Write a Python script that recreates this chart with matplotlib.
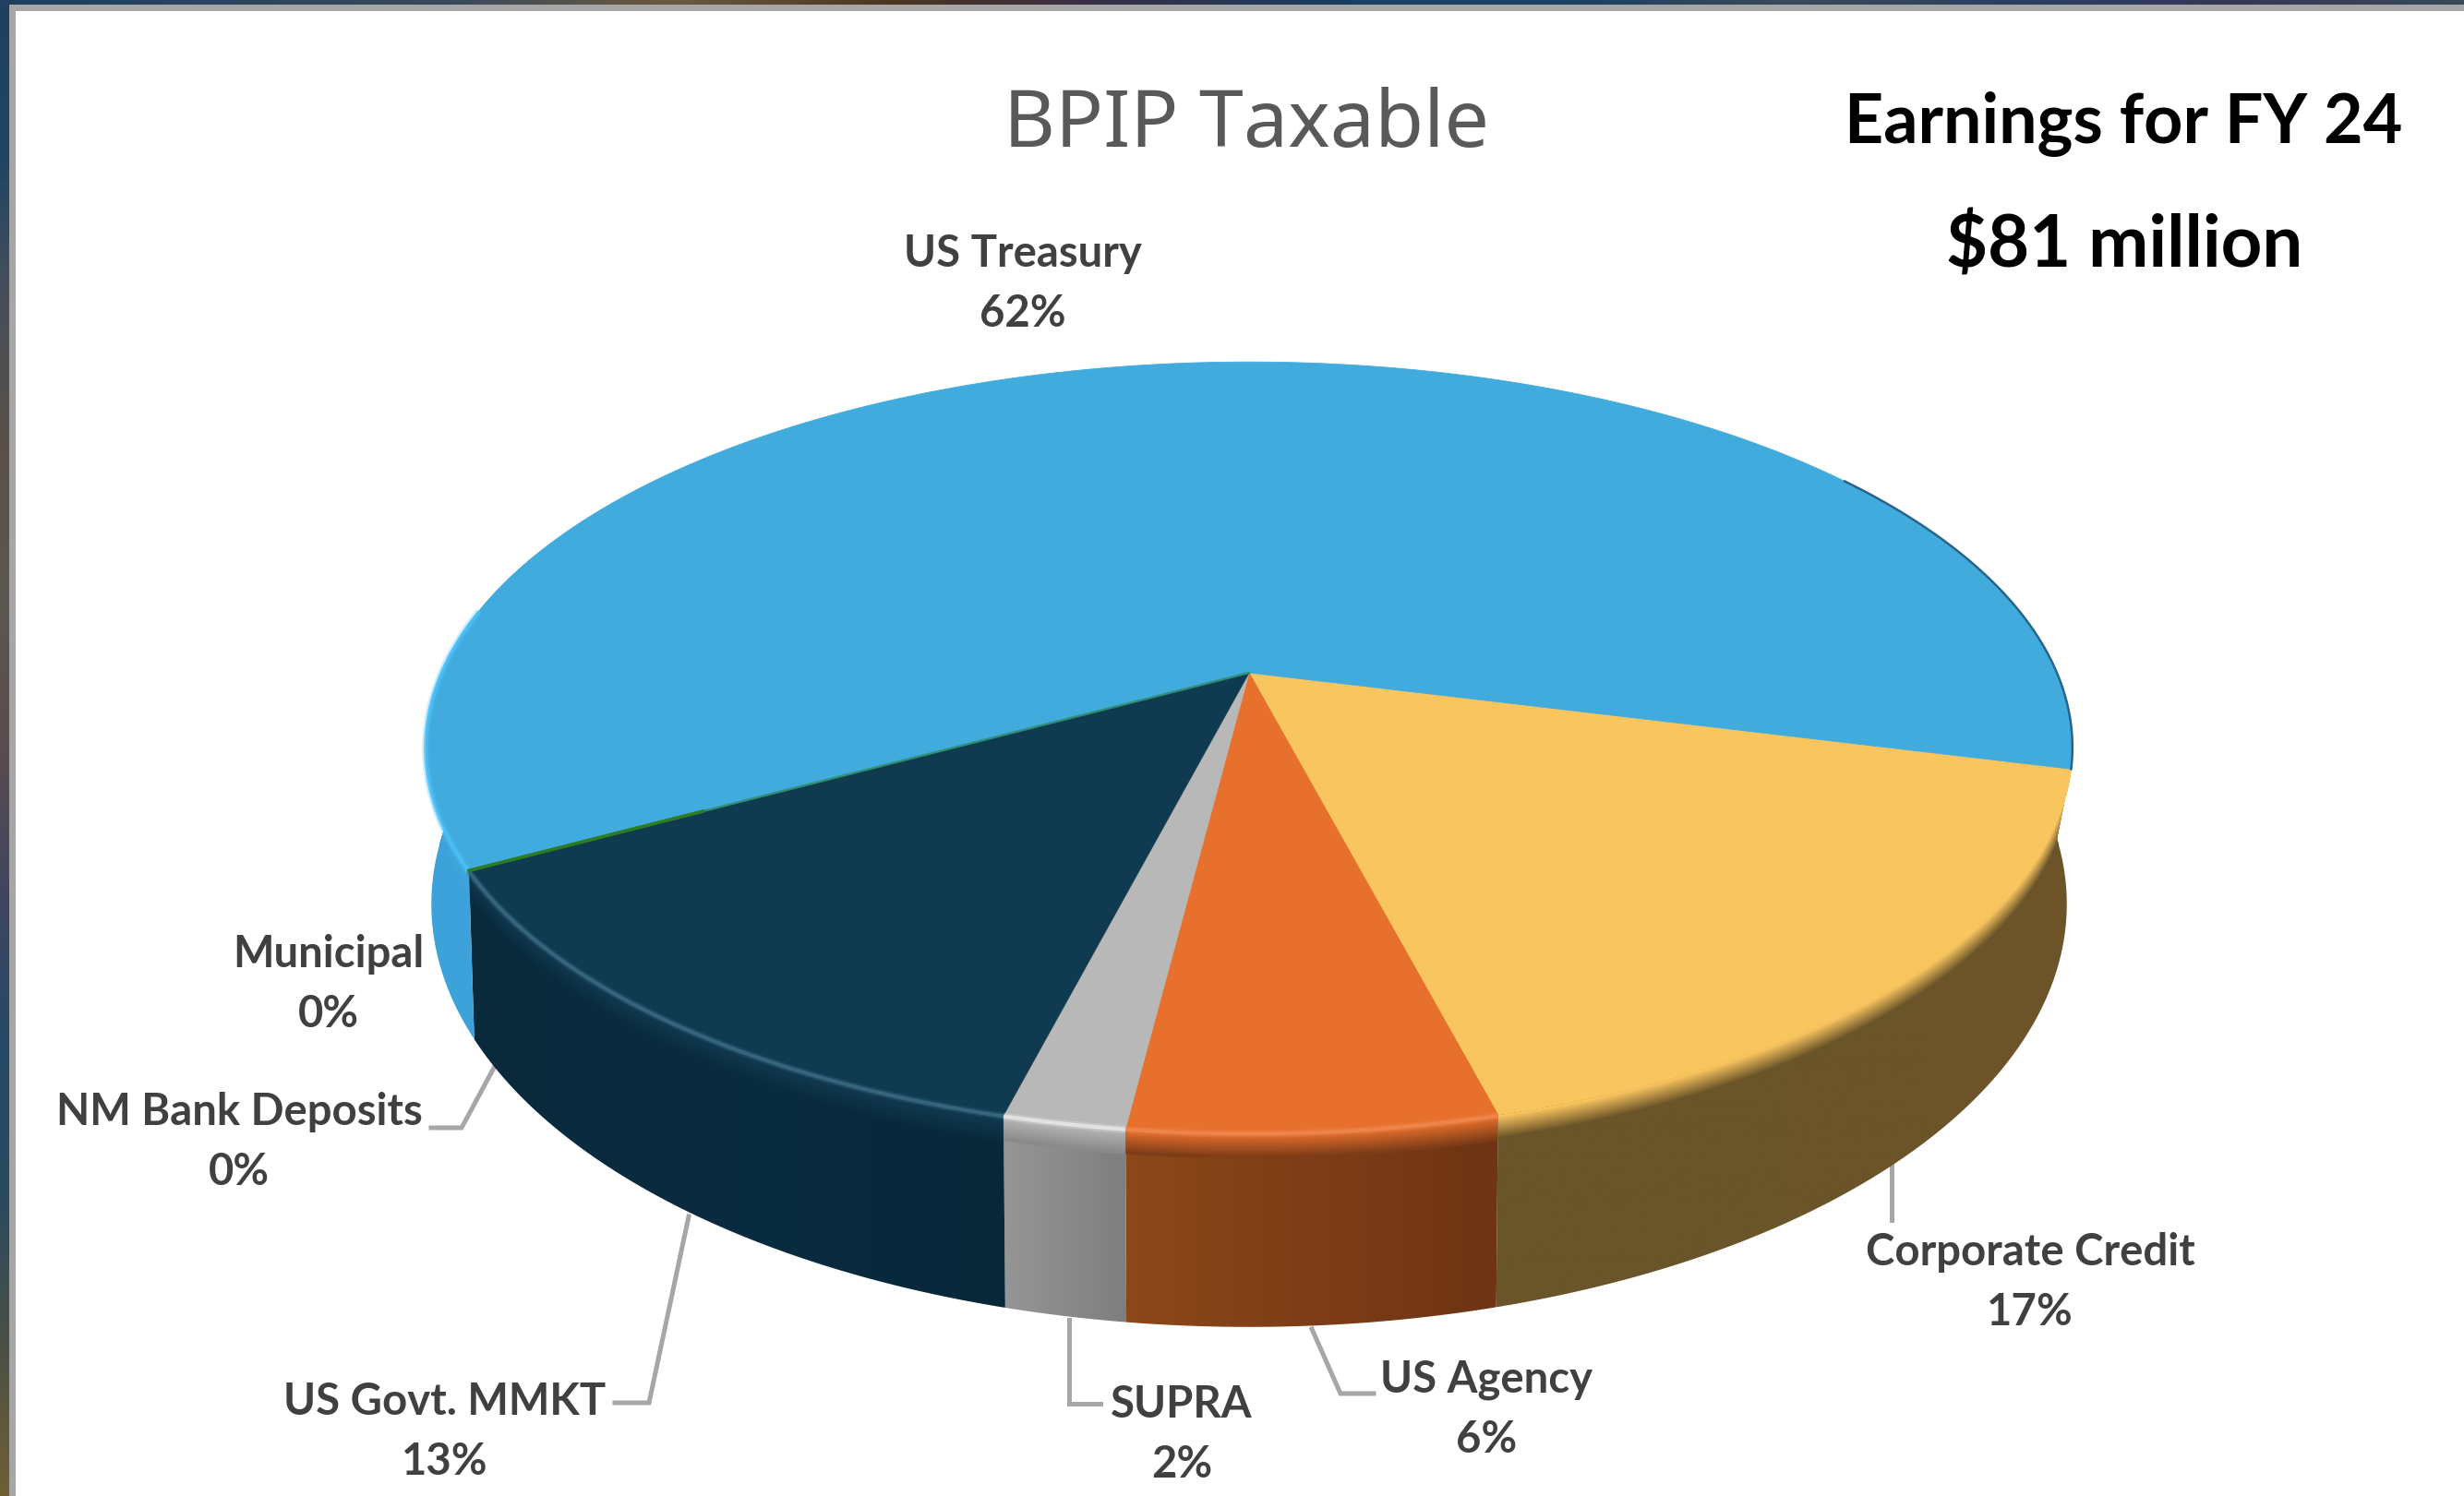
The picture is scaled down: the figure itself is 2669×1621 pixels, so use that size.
import numpy as np
import matplotlib
matplotlib.use("Agg")
import matplotlib.pyplot as plt
from matplotlib.colors import LinearSegmentedColormap, to_rgb
from matplotlib.patches import Polygon

# slices, going clockwise from the right hand side of the pie
categories = ["Corporate Credit", "US Agency", "SUPRA", "US Govt. MMKT",
              "NM Bank Deposits", "Municipal", "US Treasury"]
shares = [17, 6, 2, 13, 0, 0, 62]

top_colors = ["#F9C55F", "#E7702D", "#B8B8B8", "#103A50", "#2E8A3A", "#2E8A3A", "#41ABDE"]
side_colors = [["#6B5429", "#6A5429", "#6E5428"],
               ["#8C4819", "#7E3D17", "#6E3414"],
               ["#969696", "#8A8A8A", "#7E7E7E"],
               ["#0A2A3C", "#0A2C40", "#08283A"],
               ["#0A2A3C", "#0A2A3C"],
               ["#0A2A3C", "#0A2A3C"],
               ["#3DA2DA", "#3DA2DA"]]
shine_colors = [None, "#F08A50", "#ECECEC", "#3F6E88", None, None, "#4CC2FA"]

label_xy = {"US Treasury": (1108, 275), "Corporate Credit": (2199, 1357), "US Agency": (1610, 1495),
            "SUPRA": (1280, 1522), "US Govt. MMKT": (482, 1519),
            "NM Bank Deposits": (259, 1205), "Municipal": (356, 1034)}
leaders = [[(535, 1157), (500, 1222), (467, 1222)],
           [(746, 1318), (703, 1520), (666, 1520)],
           [(1158, 1430), (1158, 1521), (1192, 1521)],
           [(1421, 1440), (1452, 1510), (1488, 1510)],
           [(2049, 1263), (2049, 1322)]]

top_bar_stops = ["#1C3F5E", "#2A4560", "#3A4A5C", "#6B5A3C", "#4A3520", "#35304A", "#1A3F60", "#1C4060",
                 "#3A4B5C", "#2A4060", "#363758", "#3A4A5A"]
left_bar_stops = ["#1F4060", "#1E4565", "#484F5A", "#5A5248", "#5A5850", "#5A4D4F", "#3F4560", "#254A68",
                  "#2A4A60", "#4A5045", "#705F35"]

W, H = 2669, 1621
plt.rcParams["font.family"] = ["Lato", "DejaVu Sans"]

fig = plt.figure(figsize=(W / 100, H / 100), dpi=100, facecolor="white")
ax = fig.add_axes([0, 0, 1, 1])
ax.set_axis_off()

# pie seen in perspective: apex sits above the middle of the rim ellipse
k = -0.1935
start_deg = 14.3


def rim(theta, x0, y0, a, b):
    d = 1 + k * np.sin(theta)
    return x0 + a * np.cos(theta) / d, y0 + b * np.sin(theta) / d


def top_rim(theta):
    return rim(theta, 1353, 729, 875, 402)


def low_rim(theta):
    return rim(theta, 1353, 891, 869, 441)


def mix(c1, c2, t):
    c1, c2 = np.array(to_rgb(c1)), np.array(to_rgb(c2))
    return tuple(c1 * (1 - t) + c2 * t)


edges = np.radians(start_deg + 3.6 * np.concatenate([[0], np.cumsum(shares)]))

# side walls first, the top faces cover whatever is hidden
for i in range(len(shares)):
    if shares[i] == 0:
        continue
    a0, a1 = edges[i], edges[i + 1]
    low0 = a0
    if i == 0:
        low0 = a0 - np.radians(12)
    if shares[i] > 50:
        a1 = np.radians(200)
    th = np.linspace(a0, a1, 200)
    tx, ty = top_rim(th)
    lx, ly = low_rim(np.linspace(low0, a1, 200))
    pts = np.vstack([np.column_stack([tx, ty]), np.column_stack([lx, ly])[::-1]])
    wall = Polygon(pts, closed=True, facecolor="none", edgecolor="none", zorder=2)
    ax.add_patch(wall)
    cmap = LinearSegmentedColormap.from_list("wall", side_colors[i])
    grad = np.linspace(0, 1, 256).reshape(1, -1)
    im = ax.imshow(grad, cmap=cmap, aspect="auto", zorder=2,
                   extent=[pts[:, 0].min(), pts[:, 0].max(), pts[:, 1].max(), pts[:, 1].min()])
    im.set_clip_path(wall)
    # soft bevel where the wall meets the top face
    for n in range(12):
        t = n / 11
        ln, = ax.plot(tx, ty + 2 + 2.2 * n, color=mix(top_colors[i], side_colors[i][1], t), lw=2.4, zorder=3,
                      solid_capstyle="butt")
        ln.set_clip_path(wall)

# top faces
for i in range(len(shares)):
    if shares[i] == 0:
        continue
    th = np.linspace(edges[i], edges[i + 1], 300)
    tx, ty = top_rim(th)
    pts = np.vstack([[1353, 729], np.column_stack([tx, ty])])
    ax.add_patch(Polygon(pts, closed=True, facecolor=top_colors[i], edgecolor=top_colors[i], lw=0.6, zorder=4))

# light streak running along the front rim
for i in range(len(shares)):
    if shares[i] == 0 or shine_colors[i] is None:
        continue
    a0, a1 = edges[i], edges[i + 1]
    if shares[i] > 50:
        a1 = np.radians(190)
    th = np.linspace(a0, a1, 200)
    tx, ty = top_rim(th)
    for lw, al in [(6, 0.25), (3, 0.75)]:
        ax.plot(tx, ty + 1, color=shine_colors[i], lw=lw, alpha=al, zorder=5, solid_capstyle="butt")

# zero share slices only show as a thin line next to US Treasury
for i in range(len(shares)):
    if shares[i] != 0:
        continue
    ex, ey = top_rim(edges[i])
    ax.plot([1353, ex], [729, ey], color="#2E8F6E", lw=1.6, alpha=0.7, zorder=6)
    ax.plot([ex, ex + 0.3 * (1353 - ex)], [ey, ey + 0.3 * (729 - ey)], color="#2C7D22", lw=2.4, zorder=6)

# dark edge on the right side of the blue slice
th = np.radians(np.linspace(-35, start_deg, 80))
tx, ty = top_rim(th)
ax.plot(tx, ty, color="#23658C", lw=1.8, zorder=6)

for pts in leaders:
    xs, ys = zip(*pts)
    ax.plot(xs, ys, color="#A6A6A6", lw=3.6, solid_joinstyle="miter", zorder=1)

for name, val in zip(categories, shares):
    x, y = label_xy[name]
    ax.text(x, y, name, ha="center", va="center", fontsize=34, fontweight="bold", color="#404040", zorder=8)
    ax.text(x, y + 65, f"{val}%", ha="center", va="center", fontsize=34, fontweight="bold", color="#404040", zorder=8)

ax.text(1350, 137, "BPIP Taxable", ha="center", va="center", fontsize=62, color="#595959",
        family=["Noto Sans", "DejaVu Sans"], zorder=8)
ax.text(2300, 135, "Earnings for FY 24", ha="center", va="center", fontsize=53, fontweight="bold", color="#000000", zorder=8)
ax.text(2301, 267, "$81 million", ha="center", va="center", fontsize=56, fontweight="bold", color="#000000", zorder=8)

# slide frame around the chart
top_cmap = LinearSegmentedColormap.from_list("topbar", top_bar_stops)
left_cmap = LinearSegmentedColormap.from_list("leftbar", left_bar_stops)
ax.imshow(np.linspace(0, 1, 512).reshape(1, -1), cmap=top_cmap, aspect="auto", extent=[0, W, 5, 0], zorder=9)
ax.imshow(np.linspace(0, 1, 512).reshape(-1, 1), cmap=left_cmap, aspect="auto", extent=[0, 10, H, 0], zorder=9)
ax.fill_between([10, W], 5, 12, color="#A6A6A6", lw=0, zorder=9)
ax.fill_between([10, 17], 5, H, color="#A6A6A6", lw=0, zorder=9)

ax.set_xlim(0, W)
ax.set_ylim(H, 0)
fig.savefig("out.png", dpi=100, facecolor="white")
